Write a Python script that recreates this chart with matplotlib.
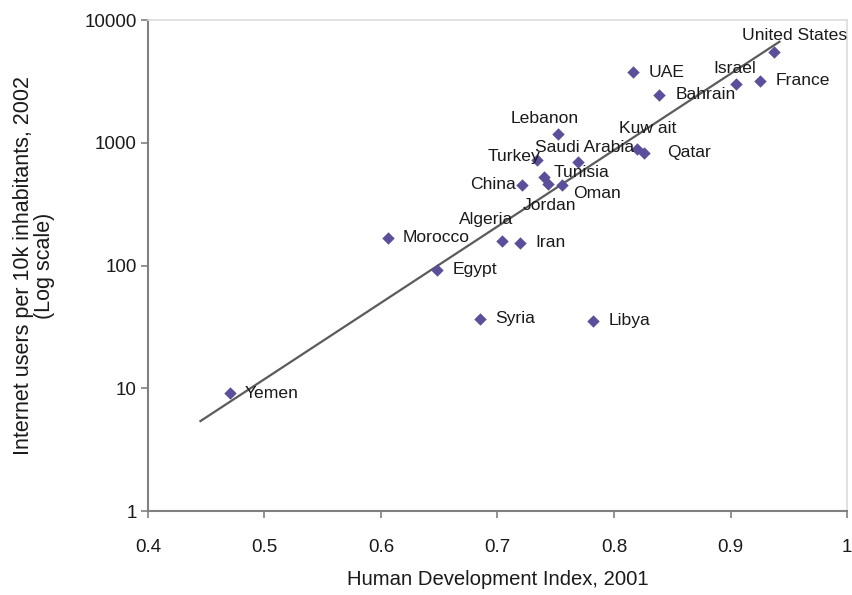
import numpy as np
import matplotlib
matplotlib.use('Agg')
import matplotlib.pyplot as plt

plt.rcParams['font.family'] = ['Liberation Sans', 'DejaVu Sans']

countries = ['United States', 'France', 'Israel', 'UAE', 'Bahrain', 'Lebanon',
             'Kuw ait', 'Saudi Arabia', 'Qatar', 'Turkey', 'Tunisia', 'China',
             'Oman', 'Jordan', 'Algeria', 'Iran', 'Morocco', 'Egypt', 'Syria',
             'Libya', 'Yemen']
hdi = [0.937, 0.925, 0.905, 0.816, 0.839, 0.752,
       0.820, 0.769, 0.826, 0.734, 0.740, 0.721,
       0.755, 0.743, 0.704, 0.719, 0.606, 0.648, 0.685,
       0.782, 0.470]
users = [5480, 3190, 3010, 3770, 2450, 1180,
         885, 700, 830, 725, 525, 455,
         455, 460, 158, 153, 168, 92, 37,
         35.5, 9.1]

# trend line as drawn in the source (end points)
trend_hdi = [0.445, 0.942]
trend_users = [5.4, 6650]

# label offsets in pixels (dx, dy, ha)
label_pos = {
    'United States': (-32, 17, 'left'),
    'France': (16, 0, 'left'),
    'Israel': (-23, 16, 'left'),
    'UAE': (16, 0, 'left'),
    'Bahrain': (16, 0, 'left'),
    'Lebanon': (-47, 15, 'left'),
    'Kuw ait': (-18, 21, 'left'),
    'Saudi Arabia': (-43, 14, 'left'),
    'Qatar': (23, 0, 'left'),
    'Turkey': (3, 3, 'right'),
    'Tunisia': (10, 5, 'left'),
    'China': (-6, 0, 'right'),
    'Oman': (12, -9, 'left'),
    'Jordan': (-25, -21, 'left'),
    'Algeria': (-43, 22, 'left'),
    'Iran': (16, 0, 'left'),
    'Morocco': (15, 0, 'left'),
    'Egypt': (16, 0, 'left'),
    'Syria': (15, 0, 'left'),
    'Libya': (16, 0, 'left'),
    'Yemen': (15, 0, 'left'),
}

fig = plt.figure(figsize=(8.52, 5.95), dpi=100)
ax = fig.add_axes([148 / 852, 84 / 595, 699 / 852, 491 / 595])

ax.plot(trend_hdi, trend_users, color='#5e5a5c', lw=1.6, zorder=2)
ax.scatter(hdi, users, marker='D', s=40, color='#5b4f9b', zorder=3, linewidths=0)

for name, x, y in zip(countries, hdi, users):
    dx, dy, ha = label_pos[name]
    ax.annotate(name, (x, y), xytext=(dx, dy), textcoords='offset pixels',
                ha=ha, va='center', fontsize=12.6, color='#1a1a1a', zorder=4)

ax.set_yscale('log')
ax.set_xlim(0.4, 1.0)
ax.set_ylim(1, 10000)
ax.set_xticks([0.4, 0.5, 0.6, 0.7, 0.8, 0.9, 1.0])
ax.set_xticklabels(['0.4', '0.5', '0.6', '0.7', '0.8', '0.9', '1'])
ax.set_yticks([1, 10, 100, 1000, 10000])
ax.set_yticklabels(['1', '10', '100', '1000', '10000'])
ax.yaxis.set_minor_locator(matplotlib.ticker.NullLocator())
ax.tick_params(axis='both', labelsize=13.5, colors='#808080', labelcolor='#1a1a1a',
               length=5, width=1.2, direction='out')
ax.tick_params(axis='x', pad=15)
ax.tick_params(axis='y', pad=3)

for side in ['left', 'bottom']:
    ax.spines[side].set_color('#808080')
    ax.spines[side].set_linewidth(1.5)
for side in ['top', 'right']:
    ax.spines[side].set_color('#dcdcdc')
    ax.spines[side].set_linewidth(1.2)

ax.set_xlabel('Human Development Index, 2001', fontsize=14.6, color='#1a1a1a', labelpad=10)
ax.set_ylabel('Internet users per 10k inhabitants, 2002\n(Log scale)', fontsize=15.5,
              color='#1a1a1a', labelpad=21, linespacing=1.0)

fig.savefig('out.png', dpi=100)
